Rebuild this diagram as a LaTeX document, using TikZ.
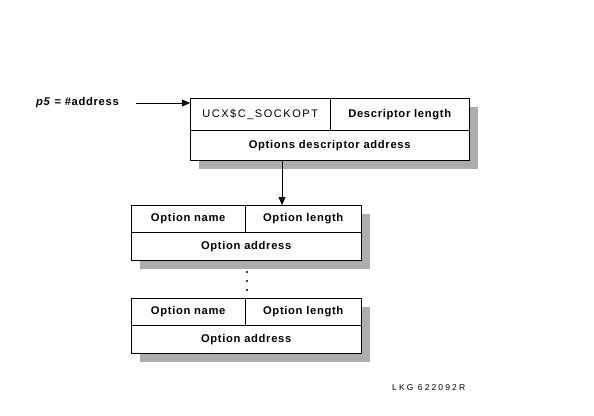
\documentclass[tikz,border=0pt]{standalone}
\usepackage{fontspec}
\setmainfont{Liberation Sans}
\usetikzlibrary{arrows.meta,calc,shadows}
\definecolor{shadowgray}{gray}{0.68}
\newcommand{\celltext}{\fontsize{11.2}{13}\selectfont\addfontfeatures{LetterSpace=6}}
\tikzset{
  cell/.style={draw, inner sep=0pt, anchor=north west, font=\celltext\bfseries},
  frame/.style={draw, fill=white, inner sep=0pt, anchor=north west,
    drop shadow={shadow xshift=9pt, shadow yshift=-9pt, fill=shadowgray, opacity=1}},
  pointer/.style={-{Triangle[length=8pt,width=7pt]}}
}

\begin{document}
\begin{tikzpicture}[x=1pt,y=-1pt]
\useasboundingbox (0,0) rectangle (594,415);
% descriptor block
\node [frame,minimum width=279pt,minimum height=62pt] (desc) at (190,98) {};
\node [cell,minimum width=140pt,minimum height=32pt,font=\fontsize{11}{13}\selectfont\addfontfeatures{LetterSpace=14}] (sockopt) at (190,98) {UCX\$C\_SOCKOPT};
\node [cell,minimum width=139pt,minimum height=32pt] (desclen) at (330,98) {Descriptor length};
\node [cell,minimum width=279pt,minimum height=30pt] (descaddr) at (190,130) {Options descriptor address};
% first option
\node [frame,minimum width=230pt,minimum height=55pt] (opt1) at (131,205) {};
\node [cell,minimum width=114pt,minimum height=27pt] (name1) at (131,205) {Option name};
\node [cell,minimum width=116pt,minimum height=27pt] (len1) at (245,205) {Option length};
\node [cell,minimum width=230pt,minimum height=28pt] (addr1) at (131,232) {Option address};
% last option
\node [frame,minimum width=230pt,minimum height=55pt] (opt2) at (131,298) {};
\node [cell,minimum width=114pt,minimum height=27pt] (name2) at (131,298) {Option name};
\node [cell,minimum width=116pt,minimum height=27pt] (len2) at (245,298) {Option length};
\node [cell,minimum width=230pt,minimum height=28pt] (addr2) at (131,325) {Option address};
% dots
\foreach \y in {272,281,290}
  \fill (247,\y) circle (1.1pt);
% pointers
\node [anchor=west,inner sep=0pt,font=\celltext\bfseries] (param) at (36,103) {\textit{p5} = \#address};
\draw [pointer] ($(param.east)+(17,0)$) -- ($(desc.north west)+(0,5)$);
\coordinate (foot) at ($(descaddr.south west)+(92,0)$);
\draw [pointer] (foot) -- (foot |- opt1.north);
\node [anchor=west,inner sep=0pt,font=\fontsize{8.5}{10}\selectfont\addfontfeatures{LetterSpace=25}] (ref) at (392,388) {LKG 622092R};
\end{tikzpicture}
\end{document}
